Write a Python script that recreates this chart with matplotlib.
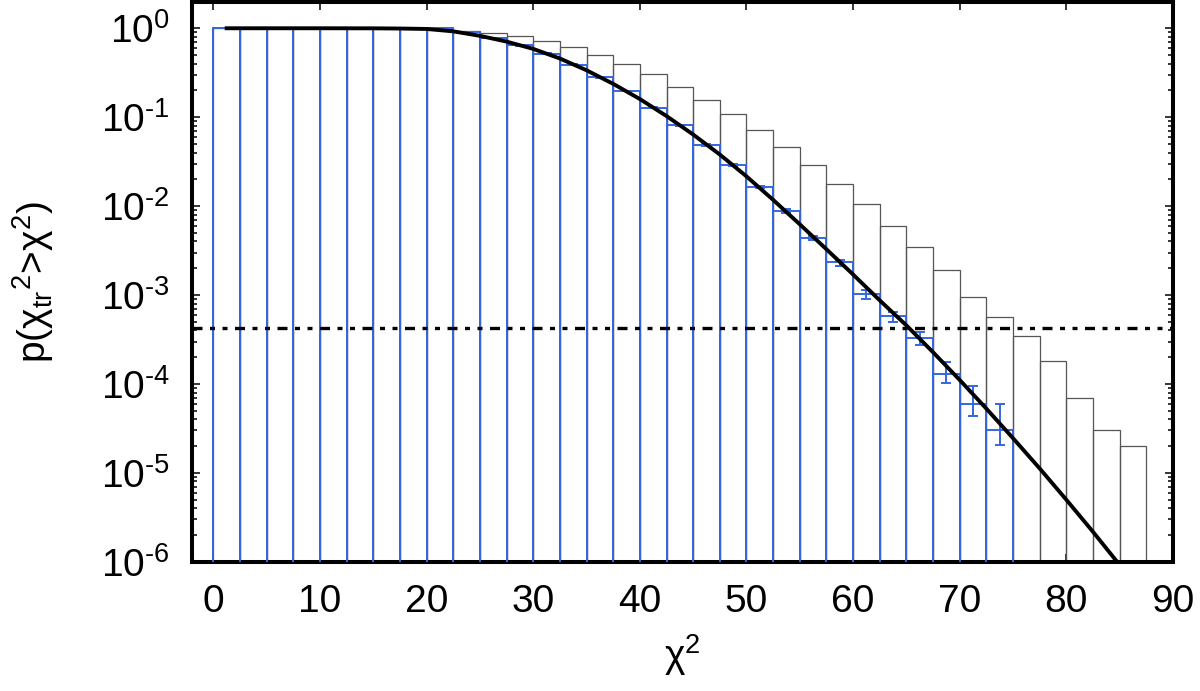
import matplotlib

matplotlib.use("Agg")
import matplotlib.pyplot as plt
import numpy as np
from matplotlib.ticker import LogLocator, NullFormatter, MultipleLocator, FuncFormatter

plt.rcParams["font.family"] = ["Liberation Sans", "DejaVu Sans"]
plt.rcParams["mathtext.fontset"] = "custom"
plt.rcParams["mathtext.rm"] = "Liberation Sans"
plt.rcParams["mathtext.it"] = "Liberation Sans"
plt.rcParams["mathtext.bf"] = "Liberation Sans:bold"

BIN_W = 2.5

# black outline histogram (35 bins from 0 to 87.5)
ref_p = [1.0, 1.0, 1.0, 1.0, 1.0, 1.0, 1.0, 1.0, 0.98, 0.93,
         0.89, 0.82, 0.72, 0.62, 0.50, 0.396, 0.303, 0.220, 0.156, 0.108,
         0.0716, 0.0461, 0.0289, 0.0178, 0.0106, 0.00594, 0.00348, 0.00193, 9.4e-4, 5.66e-4,
         3.49e-4, 1.79e-4, 6.9e-5, 3.0e-5, 1.98e-5]

# blue histogram with error bars (30 bins from 0 to 75)
obs_p = [1.0, 1.0, 1.0, 1.0, 1.0, 1.0, 1.0, 1.0, 1.0, 0.91,
         0.77, 0.64, 0.52, 0.39, 0.28, 0.197, 0.128, 0.0809, 0.0486, 0.0287,
         0.0163, 0.00877, 0.00440, 0.00233, 0.00103, 5.76e-4, 3.25e-4, 1.29e-4, 5.98e-5, 3.0e-5]
obs_hi = [1.0, 1.0, 1.0, 1.0, 1.0, 1.0, 1.0, 1.0, 1.0, 0.912,
          0.772, 0.642, 0.522, 0.392, 0.282, 0.199, 0.130, 0.0822, 0.0496, 0.0295,
          0.0168, 0.0092, 0.00466, 0.0025, 0.00115, 6.45e-4, 3.8e-4, 1.77e-4, 9.55e-5, 5.94e-5]
obs_lo = [1.0, 1.0, 1.0, 1.0, 1.0, 1.0, 1.0, 1.0, 1.0, 0.908,
          0.768, 0.638, 0.518, 0.388, 0.278, 0.195, 0.126, 0.0796, 0.0476, 0.0279,
          0.0158, 0.0084, 0.00415, 0.00214, 9.1e-4, 4.93e-4, 2.71e-4, 1.02e-4, 4.39e-5, 2.07e-5]

# smooth black curve
curve_x = [1.25, 5, 10, 15, 17.5, 20, 22.5, 25, 27.5, 30, 32.5, 35, 37.5, 40, 42.5, 45, 47.5,
           50, 52.5, 55, 57.5, 60, 62.5, 65, 67.5, 70, 72.5, 75, 77.5, 80, 82.5, 85]
curve_p = [1.0, 1.0, 1.0, 0.998, 0.993, 0.982, 0.923, 0.822, 0.708, 0.586, 0.457, 0.337, 0.237,
           0.160, 0.103, 0.0638, 0.038, 0.0216, 0.01175, 0.00624, 0.00327, 0.0017, 8.7e-4,
           4.55e-4, 2.27e-4, 1.107e-4, 5.27e-5, 2.45e-5, 1.12e-5, 4.98e-6, 2.17e-6, 9.2e-7]

threshold = 4.26e-4

BLUE = "#3366e0"


def pow10_label(v, pos):
    e = int(round(np.log10(v)))
    if e < 0:
        return r"$10^{\text{-%d}}$" % (-e)
    return r"$10^{%d}$" % e


fig = plt.figure(figsize=(12, 6.91), dpi=100)
ax = fig.add_axes([0.16, 0.187, 0.8175, 0.810])
ax.set_yscale("log")

ref_left = np.arange(len(ref_p)) * BIN_W
obs_left = np.arange(len(obs_p)) * BIN_W
ax.bar(ref_left, ref_p, width=BIN_W, align="edge", bottom=1e-9, fill=False,
       edgecolor="#555555", lw=0.9, zorder=2)
ax.bar(obs_left, obs_p, width=BIN_W, align="edge", bottom=1e-9, fill=False,
       edgecolor=BLUE, lw=1.4, zorder=3)

obs_c = obs_left + BIN_W / 2
yerr = [np.array(obs_p) - np.array(obs_lo), np.array(obs_hi) - np.array(obs_p)]
ax.errorbar(obs_c, obs_p, yerr=yerr, fmt="none", ecolor=BLUE, elinewidth=1.4,
            capsize=3.6, capthick=1.4, zorder=3)

ax.axhline(threshold, color="black", lw=2.4,
           ls=(0, (3.0, 2.25, 1.5, 2.25, 1.5, 2.25)), zorder=4)
ax.plot(curve_x, curve_p, color="black", lw=2.8, zorder=5)

ax.set_xlim(-2, 90)
ax.set_ylim(1e-6, 1.97)
ax.xaxis.set_major_locator(MultipleLocator(10))
ax.yaxis.set_major_locator(LogLocator(base=10, numticks=20))
ax.yaxis.set_major_formatter(FuncFormatter(pow10_label))
ax.yaxis.set_minor_locator(LogLocator(base=10, subs=np.arange(2, 10), numticks=20))
ax.yaxis.set_minor_formatter(NullFormatter())

ax.tick_params(which="both", direction="in", top=True, right=True, labelsize=28, width=1.1)
ax.tick_params(which="major", length=6)
ax.tick_params(which="minor", length=3.5)
ax.tick_params(axis="x", pad=16)
ax.tick_params(axis="y", pad=16)
for s in ax.spines.values():
    s.set_linewidth(2.9)

ax.set_xlabel(r"χ$^{2}$", fontsize=28, labelpad=9)
ax.set_ylabel(r"p(χ$_{\rm tr}$$^{2}$>χ$^{2}$)", fontsize=28, labelpad=32)

fig.savefig("out.png", dpi=100)
